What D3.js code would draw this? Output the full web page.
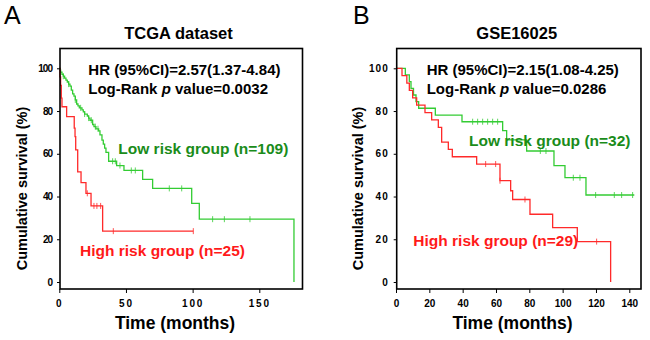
<!DOCTYPE html>
<html><head><meta charset="utf-8">
<script src="https://cdn.jsdelivr.net/npm/d3@7"></script>
<style>
html,body{margin:0;padding:0;background:#fff;}
svg{display:block;font-family:"Liberation Sans",Arial,sans-serif;}
</style></head><body>
<svg id="c" width="650" height="340"></svg>
<script>
// ---- Data ----
// Panel A: TCGA dataset
const tcgaLowTimes = [0.5,1,2,3,4,5,6,7,8,9,10,11,12,13,14,15,17,18,19,21,22,23,25,26,27.5,29.5,30.5,32,33,34,35,37,43,48.5,62.5,70,99.3,105,176];
const tcgaLowSurv  = [99.1,98.2,97.2,96.3,95.4,94.5,93.6,92.6,91.7,89.8,88.0,87.0,85.2,83.3,82.4,81.5,80.5,79.6,78.6,77.6,76.7,75.7,73.7,72.7,71.7,70.7,68.8,66.4,64.5,62.6,60.7,56.5,54.5,52.2,48.0,43.8,36.8,29.4,0];
const tcgaLowEnd = 176;
const tcgaLowCensor = [3,7,12,16,19,22,24,27,29,40,42,45.5,54,57,82.5,91.8,115,123.8,143];

const tcgaHighTimes = [0.5,1,1.5,2,5.5,11.2,11.8,12.3,13.8,16.3,20,23.8,32.5];
const tcgaHighSurv  = [96,92,86,82,77.4,72,68,61.8,51.5,46.5,41.5,35.6,23.8];
const tcgaHighEnd = 100.5;
const tcgaHighCensor = [21,26,28.2,31,40.5,100.5];

// Panel B: GSE16025
const gseLowTimes = [5.6,8,9,10.5,12,13.6,23.6,39.6,64,66.4,78.4,94.8,101.4,114];
const gseLowSurv  = [96.9,93.8,90.6,87.5,84.4,81.3,78.1,75,70.8,66.5,61.3,54.5,48.8,40.7];
const gseLowEnd = 143;
const gseLowCensor = [46,49,52,55,58,61,86.6,90,106.4,110.4,119.8,131,135.4,142];

const gseHighTimes = [3.6,6.5,8,10,12.4,17.4,21.4,25.4,27.4,31.4,33.8,48.4,62.4,68.8,70,80.4,94,108.8,128.8];
const gseHighSurv  = [96.6,93.1,89.7,86.2,82.8,79.3,75.9,72.4,65.5,62.1,58.6,55.2,47.4,42.7,38.6,31.7,25.4,18.9,0];
const gseHighEnd = 128.8;
const gseHighCensor = [53.8,59.8,62.4,77.4,120.4];

const yTicks = [0,20,40,60,80,100];
const tcgaXTicks = [0,50,100,150];
const gseXTicks = [0,20,40,60,80,100,120,140];

// ---- Drawing ----
const svg = d3.select("#c");
const GREEN = "#33cc33", RED = "#ff2a2a", GREEN_TXT = "#1a8c1a", RED_TXT = "#ff1a1a";

function panel(o){
  const g = svg.append("g");
  const x = d3.scaleLinear().domain(o.xDomain).range(o.xRange);
  const y = d3.scaleLinear().domain([0,100]).range([282,68.3]);

  function curve(times, surv, end, censor, color){
    const pts = [[0,100]];
    times.forEach((t,i)=>pts.push([t,surv[i]]));
    if (end > times[times.length-1]) pts.push([end, surv[surv.length-1]]);
    const line = d3.line().x(d=>x(d[0])).y(d=>y(d[1])).curve(d3.curveStepAfter);
    g.append("path").attr("d", line(pts)).attr("fill","none")
      .attr("stroke", color).attr("stroke-width",1.3);
    const level = t => { let s = 100; times.forEach((tt,i)=>{ if (tt <= t) s = surv[i]; }); return s; };
    g.selectAll(null).data(censor).enter().append("line")
      .attr("x1", d=>x(d)).attr("x2", d=>x(d))
      .attr("y1", d=>y(level(d))-3).attr("y2", d=>y(level(d))+3)
      .attr("stroke", color).attr("stroke-width",1).attr("opacity",0.8);
  }
  curve(o.low.t, o.low.s, o.low.end, o.low.c, GREEN);
  curve(o.high.t, o.high.s, o.high.end, o.high.c, RED);

  g.append("rect").attr("x", o.box[0]).attr("y", 48.5)
    .attr("width", o.box[1]-o.box[0]).attr("height", 289-48.5)
    .attr("fill","none").attr("stroke","#000").attr("stroke-width",1.6);

  const ya = g.append("g").attr("transform", `translate(${o.box[0]},0)`)
    .call(d3.axisLeft(y).tickValues(yTicks).tickSize(3).tickPadding(5));
  ya.select(".domain").remove();
  ya.selectAll("text").attr("font-size",10).attr("font-weight","bold")
    .attr("font-family","Liberation Sans, Arial, sans-serif").attr("letter-spacing", o.yls);
  const xa = g.append("g").attr("transform", `translate(0,289)`)
    .call(d3.axisBottom(x).tickValues(o.xTicks).tickSize(4).tickPadding(7));
  xa.select(".domain").remove();
  xa.selectAll("text").attr("font-size",10).attr("font-weight","bold")
    .attr("font-family","Liberation Sans, Arial, sans-serif").attr("letter-spacing", o.xls);

  g.append("text").attr("x", o.letterX).attr("y", 24).attr("font-size",25).text(o.letter);
  g.append("text").attr("x", o.titleX).attr("y", 39).attr("text-anchor","middle")
    .attr("font-size",16.5).attr("font-weight","bold").text(o.title);
  g.append("text").attr("x", o.hrX).attr("y", 74.5).attr("font-size",15).attr("font-weight","bold").text(o.hr);
  const lr = g.append("text").attr("x", o.hrX).attr("y", 94).attr("font-size",15).attr("font-weight","bold");
  lr.append("tspan").text("Log-Rank ");
  lr.append("tspan").attr("font-style","italic").text("p");
  lr.append("tspan").text(" value=" + o.p);
  g.append("text").attr("x", o.lowX).attr("y", o.lowY).attr("font-size",15.5).attr("font-weight","bold")
    .attr("fill", GREEN_TXT).text(o.lowLabel);
  g.append("text").attr("x", o.highX).attr("y", o.highY).attr("font-size",15.5).attr("font-weight","bold")
    .attr("fill", RED_TXT).text(o.highLabel);
  g.append("text").attr("transform", `translate(${o.ylabX},188.5) rotate(-90)`).attr("text-anchor","middle")
    .attr("font-size",14.5).attr("font-weight","bold").text("Cumulative survival (%)");
  g.append("text").attr("x", o.xlabX).attr("y", 329).attr("text-anchor","middle")
    .attr("font-size",17.5).attr("font-weight","bold").text("Time (months)");
}

panel({
  xDomain:[0,150], xRange:[59.3,259.3], box:[60,302.5], xTicks:tcgaXTicks, xls:1.8, yls:-1,
  low:{t:tcgaLowTimes,s:tcgaLowSurv,end:tcgaLowEnd,c:tcgaLowCensor},
  high:{t:tcgaHighTimes,s:tcgaHighSurv,end:tcgaHighEnd,c:tcgaHighCensor},
  letter:"A", letterX:4, title:"TCGA dataset", titleX:178.5,
  hrX:88.3, hr:"HR (95%CI)=2.57(1.37-4.84)", p:"0.0032",
  lowX:118.3, lowY:153.5, lowLabel:"Low risk group (n=109)",
  highX:80, highY:255.5, highLabel:"High risk group (n=25)",
  ylabX:26.5, xlabX:175
});
panel({
  xDomain:[0,140], xRange:[396,629.3], box:[396.7,641], xTicks:gseXTicks, xls:0, yls:1,
  low:{t:gseLowTimes,s:gseLowSurv,end:gseLowEnd,c:gseLowCensor},
  high:{t:gseHighTimes,s:gseHighSurv,end:gseHighEnd,c:gseHighCensor},
  letter:"B", letterX:353, title:"GSE16025", titleX:516.7,
  hrX:426.7, hr:"HR (95%CI)=2.15(1.08-4.25)", p:"0.0286",
  lowX:469, lowY:145.5, lowLabel:"Low risk group (n=32)",
  highX:413.3, highY:246, highLabel:"High risk group (n=29)",
  ylabX:363, xlabX:512.5
});
</script>
</body></html>
